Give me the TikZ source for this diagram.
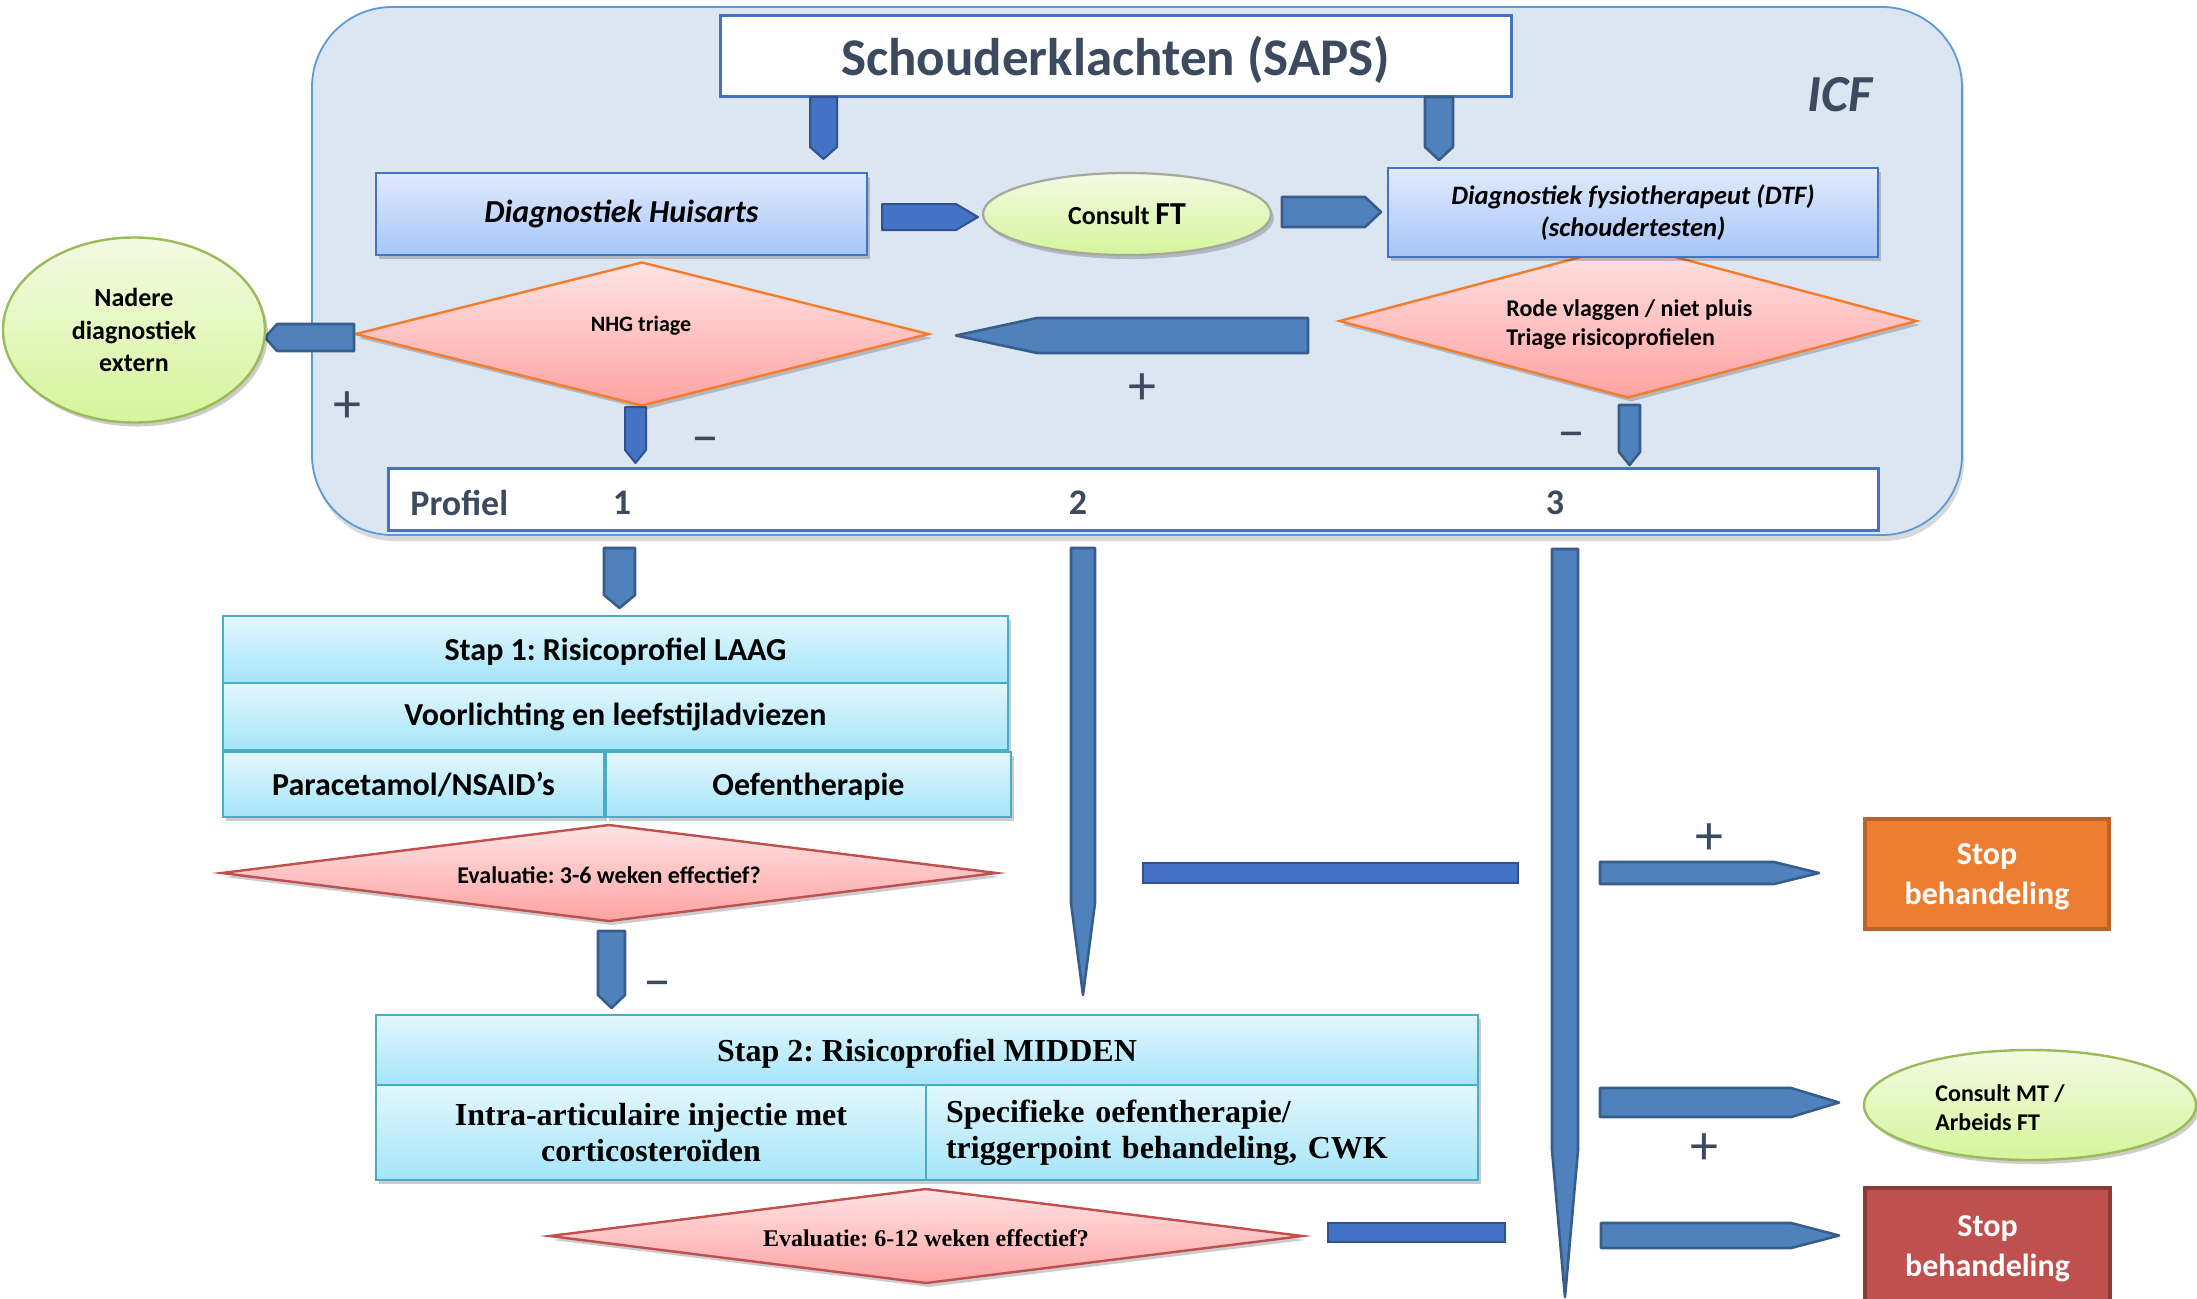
\documentclass[tikz,border=0pt]{standalone}
\usepackage{fontspec}
\setmainfont{Carlito}
\newfontfamily\tnr{Liberation Serif}
\usetikzlibrary{shapes.geometric,shadows,calc}
\frenchspacing

\definecolor{slate}{HTML}{3B4A5F}
\definecolor{bgblue}{HTML}{DCE6F2}
\definecolor{bgline}{HTML}{5B9BD5}
\definecolor{cArrA}{HTML}{4F81BD}
\definecolor{cArrAline}{HTML}{385D8A}
\definecolor{cArrB}{HTML}{4472C4}
\definecolor{cArrBline}{HTML}{2F528F}
\definecolor{boxtop}{HTML}{E1EAFD}
\definecolor{boxbot}{HTML}{A7C5F7}
\definecolor{greentop}{HTML}{F3FAE3}
\definecolor{greenbot}{HTML}{D5F59B}
\definecolor{greenline}{HTML}{9BBB59}
\definecolor{greyline}{HTML}{A6A89C}
\definecolor{pinktop}{HTML}{FFE3E3}
\definecolor{pinkbot}{HTML}{FFA3A3}
\definecolor{orangeline}{HTML}{F47C2C}
\definecolor{redline}{HTML}{C0504D}
\definecolor{cyantop}{HTML}{E3F7FD}
\definecolor{cyanbot}{HTML}{A5E5F9}
\definecolor{cyanline}{HTML}{4BACC6}
\definecolor{stoporange}{HTML}{ED7D31}
\definecolor{stoporangeline}{HTML}{B9632A}
\definecolor{stopred}{HTML}{C0504D}
\definecolor{stopredline}{HTML}{8C3A38}

\newcommand{\fs}[2]{\fontsize{#1}{#2}\selectfont}

% vertical block arrow: [style]{from}{tip}{half width px}{taper px}
\newcommand{\varrow}[5][barA]{%
  \draw[#1] let \p1=(#2), \p2=(#3), \n1={ifthenelse(\y2<\y1,-1,1)} in
  ({\x1-#4*0.5pt},\y1) -- ({\x1+#4*0.5pt},\y1) -- ({\x1+#4*0.5pt},{\y2-(\n1)*#5*0.5pt}) --
  (\x1,\y2) -- ({\x1-#4*0.5pt},{\y2-(\n1)*#5*0.5pt}) -- cycle;}
% horizontal block arrow
\newcommand{\harrow}[5][barA]{%
  \draw[#1] let \p1=(#2), \p2=(#3), \n1={ifthenelse(\x2<\x1,-1,1)} in
  (\x1,{\y1+#4*0.5pt}) -- ({\x2-(\n1)*#5*0.5pt},{\y1+#4*0.5pt}) -- (\x2,\y1) --
  ({\x2-(\n1)*#5*0.5pt},{\y1-#4*0.5pt}) -- (\x1,{\y1-#4*0.5pt}) -- cycle;}

\begin{document}
\begin{tikzpicture}[x=0.5pt,y=-0.5pt,
  shad/.style={drop shadow={shadow xshift=1.5pt,shadow yshift=-2pt,fill=black,opacity=0.2}},
  barA/.style={fill=cArrA,draw=cArrAline,line width=1.3pt,line join=round},
  barB/.style={fill=cArrB,draw=cArrBline,line width=1pt,line join=round},
  bgbox/.style={rectangle,rounded corners=40pt,fill=bgblue,draw=bgline,line width=0.9pt,
    drop shadow={shadow xshift=1pt,shadow yshift=-3pt,fill=black,opacity=0.15}},
  titlebox/.style={rectangle,draw=cArrB,line width=1.5pt,fill=white,inner sep=0pt,
    font=\bfseries\fs{26.5}{30},text=slate,text depth=0pt},
  bluebox/.style={rectangle,draw=cArrB,line width=1.2pt,top color=boxtop,bottom color=boxbot,
    shad,inner sep=0pt,align=center,font=\bfseries\itshape},
  greenell/.style={ellipse,draw=greenline,line width=1.2pt,top color=greentop,bottom color=greenbot,
    shad,inner sep=0pt,align=center,font=\bfseries},
  diam/.style={diamond,inner sep=0pt,line width=1.2pt,top color=pinktop,bottom color=pinkbot,shad},
  cell/.style={rectangle,draw=cyanline,line width=1.1pt,top color=cyantop,bottom color=cyanbot,
    shad,inner sep=0pt,align=center},
  stopbox/.style={rectangle,inner sep=0pt,align=center,text=white,font=\bfseries\fs{16}{20}},
  lbl/.style={font=\bfseries\fs{18}{20},text=slate,inner sep=0pt},
  sign/.style={font=\fs{28}{30},text=slate,inner sep=0pt,anchor=base},
  plainbar/.style={fill=cArrB,draw=cArrBline,line width=1pt}
]
\useasboundingbox (0,0) rectangle (2197,1298);
\clip (0,0) rectangle (2197,1298);

% ---------- ICF frame ----------
\node[bgbox,minimum width=825pt,minimum height=264pt] (icf) at (1137,271) {};
\node[font=\bfseries\itshape\fs{26}{30},text=slate,inner sep=0pt] (icflabel) at (1840,95) {ICF};

\node[titlebox,minimum width=395.5pt,minimum height=40.5pt] (title) at (1115.5,55.5) {Schouderklachten (SAPS)};

\coordinate (a1s) at (823.5,97);  \coordinate (a1e) at (823.5,159);
\coordinate (a2s) at (1439,97);   \coordinate (a2e) at (1439,160);
\varrow[barB]{a1s}{a1e}{13.5}{12}
\varrow{a2s}{a2e}{14}{13}

\node[bluebox,minimum width=245.5pt,minimum height=41pt,font=\bfseries\itshape\fs{16}{19}] (huis) at (621.5,214) {Diagnostiek Huisarts};
\node[ellipse,draw=greyline,line width=1.1pt,top color=greentop,bottom color=greenbot,shad,inner sep=0pt,
  minimum width=144pt,minimum height=41pt,font=\bfseries] (consult) at (1127,214) {\fs{13}{15}Consult \fs{16}{18}FT};

\node[diam,draw=orangeline,minimum width=289pt,minimum height=77pt] (rode) at (1628,321) {};
\node[bluebox,minimum width=245pt,minimum height=44.5pt,font=\bfseries\itshape\fs{13.3}{16}] (dtf) at (1633,212.5) {Diagnostiek fysiotherapeut (DTF)\\(schoudertesten)};
\node[align=left,anchor=west,font=\bfseries\fs{12}{14.5},inner sep=0pt] (rodetxt) at (1506,325) {Rode vlaggen / niet pluis\\Triage risicoprofielen};

\node[diam,draw=orangeline,minimum width=287pt,minimum height=72pt] (nhg) at (642,334) {};
\node[font=\bfseries\fs{11}{13},inner sep=0pt] (nhgtxt) at (641,326) {NHG triage};

\coordinate (a3s) at (882,217);   \coordinate (a3e) at (978,217);
\coordinate (a4s) at (1282,212);  \coordinate (a4e) at (1381,212);
\coordinate (a5s) at (354,337.5); \coordinate (a5e) at (265,337.5);
\coordinate (a6s) at (1308,335.5);\coordinate (a6e) at (956,335.5);
\harrow[barB]{a3s}{a3e}{13}{22}
\harrow{a4s}{a4e}{15}{16}
\harrow{a5s}{a5e}{13.5}{12}
\harrow{a6s}{a6e}{17.5}{81}

\node[greenell,minimum width=131pt,minimum height=92.5pt,font=\bfseries\fs{13}{16.25}] (nadere) at (134,330) {Nadere\\diagnostiek\\extern};

\node[rectangle,draw=cArrB,line width=1.5pt,fill=white,minimum width=745pt,minimum height=31pt,inner sep=0pt] (profiel) at (1133,499) {};
\node[lbl,anchor=west] (proftxt) at (410,503) {Profiel};
\node[lbl] (p1) at (622,503) {1};
\node[lbl] (p2) at (1078,503) {2};
\node[lbl] (p3) at (1555,503) {3};

\coordinate (a7s) at (635.5,407);  \coordinate (a7e) at (635.5,463);
\coordinate (a8s) at (1629.5,405); \coordinate (a8e) at (1629.5,465);
\varrow[barB]{a7s}{a7e}{10.5}{13}
\varrow{a8s}{a8e}{10.5}{13}

\node[sign] (plus1) at (347,422) {+};
\node[sign] (plus2) at (1142,404) {+};
\node[sign] (min1) at (705,454) {–};
\node[sign] (min2) at (1571,449) {–};

% ---------- lower part ----------
\coordinate (a9s) at (619.5,548);  \coordinate (a9e) at (619.5,608);
\coordinate (a10s) at (1083,548);  \coordinate (a10e) at (1083,995);
\coordinate (a11s) at (1565,549);  \coordinate (a11e) at (1565,1297);
\varrow{a9s}{a9e}{15.5}{13}
\varrow{a10s}{a10e}{12}{92}
\varrow{a11s}{a11e}{13}{147}

\node[cell,minimum width=392.5pt,minimum height=33.5pt,font=\bfseries\fs{16}{19},text depth=0pt] (s1a) at (615.5,649.5) {Stap 1: Risicoprofiel LAAG};
\node[cell,minimum width=392.5pt,minimum height=33.5pt,font=\bfseries\fs{16}{19}] (s1b) at (615.5,716.5) {Voorlichting en leefstijladviezen};
\node[cell,minimum width=190.5pt,minimum height=32.5pt,font=\bfseries\fs{16}{19}] (s1c) at (413.5,784.5) {Paracetamol/NSAID’s};
\node[cell,minimum width=202.5pt,minimum height=32.5pt,font=\bfseries\fs{16}{19},text depth=0pt] (s1d) at (808.5,784.5) {Oefentherapie};

\node[diam,draw=redline,minimum width=388pt,minimum height=48.5pt] (eval1) at (609,873) {};
\node[font=\bfseries\fs{12}{14},inner sep=0pt] (eval1txt) at (609,875) {Evaluatie: 3-6 weken effectief?};

\coordinate (a12s) at (611.5,931); \coordinate (a12e) at (611.5,1008);
\varrow{a12s}{a12e}{13.5}{13}
\node[sign] (min3) at (657,998) {–};

\draw[plainbar] (1143,863) rectangle (1518,883);
\coordinate (a13s) at (1600,873); \coordinate (a13e) at (1819,873);
\harrow{a13s}{a13e}{11}{45}
\node[sign] (plus3) at (1709,854) {+};
\node[rectangle,fill=stoporange,draw=stoporangeline,line width=1.6pt,stopbox,text depth=0pt,minimum width=122pt,minimum height=55pt] (stop1) at (1987,874) {Stop\\behandeling};

\node[cell,minimum width=551pt,minimum height=35pt,font=\tnr\bfseries\fs{16}{18},text depth=0pt] (s2a) at (927,1050) {Stap 2: Risicoprofiel MIDDEN};
\node[cell,minimum width=275pt,minimum height=47.5pt,font=\tnr\bfseries\fs{16}{18}] (s2b) at (651,1132.5) {Intra-articulaire injectie met\\corticosteroïden};
\node[cell,minimum width=276pt,minimum height=47.5pt,text width=256pt,inner xsep=10pt,align=left,font=\tnr\bfseries\fs{16}{18}] (s2c) at (1202,1132.5) {Specifieke oefentherapie/\\triggerpoint behandeling, CWK};

\node[diam,draw=redline,minimum width=377pt,minimum height=47.5pt] (eval2) at (926,1236) {};
\node[font=\tnr\bfseries\fs{12}{14},inner sep=0pt] (eval2txt) at (926,1238) {Evaluatie: 6-12 weken effectief?};

\draw[plainbar] (1328,1223) rectangle (1505,1242);
\coordinate (a14s) at (1600,1102.5); \coordinate (a14e) at (1839,1102.5);
\coordinate (a15s) at (1601,1235.5); \coordinate (a15e) at (1839,1235.5);
\harrow{a14s}{a14e}{14.5}{48}
\harrow{a15s}{a15e}{12.5}{48}
\node[sign] (plus4) at (1704,1164) {+};

\node[greenell,minimum width=166pt,minimum height=55pt] (consmt) at (2030,1105) {};
\node[align=left,anchor=west,font=\bfseries\fs{12}{14.5},inner sep=0pt] (consmttxt) at (1935,1107.5) {Consult MT /\\Arbeids FT};

\node[rectangle,fill=stopred,draw=stopredline,line width=2pt,stopbox,minimum width=122.5pt,minimum height=61pt] (stop2) at (1987.5,1249) {Stop\\behandeling};
\end{tikzpicture}
\end{document}
